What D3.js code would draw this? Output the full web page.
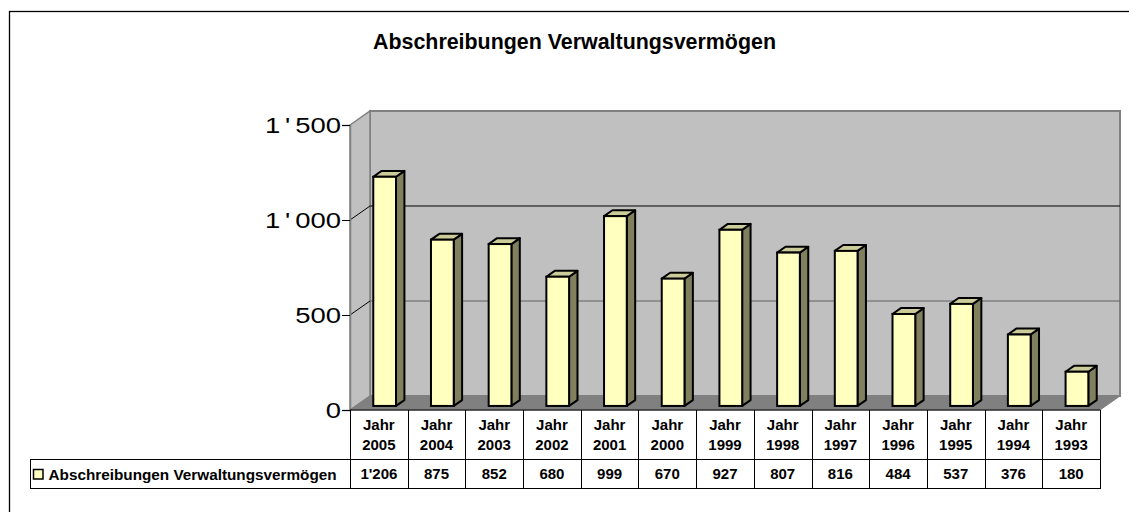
<!DOCTYPE html>
<html><head><meta charset="utf-8">
<script src="https://cdn.jsdelivr.net/npm/d3@7"></script>
<style>
html,body{margin:0;padding:0;background:#fff;}
svg{display:block;font-family:"Liberation Sans",Arial,sans-serif;}
</style></head>
<body><svg id="chart" width="1129" height="512"></svg>
<script>
const title = "Abschreibungen Verwaltungsvermögen";
const seriesName = "Abschreibungen Verwaltungsvermögen";
const categories = ["Jahr 2005","Jahr 2004","Jahr 2003","Jahr 2002","Jahr 2001","Jahr 2000","Jahr 1999","Jahr 1998","Jahr 1997","Jahr 1996","Jahr 1995","Jahr 1994","Jahr 1993"];
const values = [1206, 875, 852, 680, 999, 670, 927, 807, 816, 484, 537, 376, 180];
const yTicks = [0, 500, 1000, 1500];

const svg = d3.select("#chart");
const fmt = d => d3.format(",")(d).replace(/,/g, "'");

// layout
const L = 350, R = 1100, Y0 = 410, YT = 125;
const DX = 20, DY = -14;           // depth offset of the back wall
const dF = 0.29, dB = 0.71;        // bar depth range (fraction)
const tableTop = 410, rowSplit = 459, tableBot = 488, legendLeft = 30;

const x = d3.scaleBand().domain(categories).range([L, R]).padding(0);
const y = d3.scaleLinear().domain([0, 1500]).range([Y0, YT]);

// outer frame
svg.append("rect").attr("x", 9.5).attr("y", 11.5).attr("width", 1130).attr("height", 510)
  .attr("fill", "#fff").attr("stroke", "#000").attr("stroke-width", 1.3);

// title
svg.append("text").attr("x", 574.5).attr("y", 49).attr("text-anchor", "middle")
  .attr("font-size", 21.4).attr("font-weight", "bold").text(title);

const g = svg.append("g");
const pts = a => a.map(p => p.join(",")).join(" ");

// back wall
g.append("polygon").attr("points", pts([[L+DX, y(1500)+DY],[R+DX, y(1500)+DY],[R+DX, Y0+DY],[L+DX, Y0+DY]]))
  .attr("fill", "#c0c0c0").attr("stroke", "#808080").attr("stroke-width", 2);
// side wall
g.append("polygon").attr("points", pts([[L, y(1500)],[L+DX, y(1500)+DY],[L+DX, Y0+DY],[L, Y0]]))
  .attr("fill", "#c0c0c0").attr("stroke", "#808080").attr("stroke-width", 1.5);
// floor
g.append("polygon").attr("points", pts([[L, Y0],[L+DX, Y0+DY],[R+DX, Y0+DY],[R, Y0]]))
  .attr("fill", "#808080").attr("stroke", "#808080").attr("stroke-width", 1);

// gridlines
const grid = [500, 1000];
g.selectAll(".gb").data(grid).join("line")
  .attr("x1", L+DX).attr("x2", R+DX).attr("y1", d => y(d)+DY).attr("y2", d => y(d)+DY)
  .attr("stroke", d => d === 1000 ? "#000" : "#606060").attr("stroke-width", 1);
g.selectAll(".gs").data(grid).join("line")
  .attr("x1", L).attr("x2", L+DX).attr("y1", d => y(d)).attr("y2", d => y(d)+DY)
  .attr("stroke", "#000").attr("stroke-width", 1);

// axis
const ax = svg.append("g").attr("transform", `translate(${L},0)`)
  .call(d3.axisLeft(y).tickValues(yTicks).tickFormat(fmt).tickSize(8).tickPadding(0));
ax.select(".domain").attr("stroke", "#808080").attr("stroke-width", 1.5);
ax.selectAll(".tick line").attr("stroke", "#000");
ax.selectAll(".tick text").each(function(d) {
  const s = d3.select(this);
  const parts = fmt(d).split("'");
  s.text(null).attr("font-size", 22.5).attr("fill", "#000")
    .attr("font-family", "'Liberation Sans',Arial,sans-serif").attr("dy", "0.35em")
    .attr("x", 0).attr("transform", "translate(-9,0) scale(1.22,1)");
  parts.forEach((p, i) => {
    if (i > 0) s.append("tspan").attr("dx", 4).text("'");
    s.append("tspan").attr("dx", i > 0 ? 4 : 0).text(p);
  });
});

// bars
const bw = x.bandwidth() * 0.394;
const bdx = (dB - dF) * DX, bdy = (dB - dF) * DY;
const bars = g.selectAll(".bar").data(categories).join("g");
bars.each(function(c, i) {
  const v = values[i];
  const cx = x(c) + x.bandwidth()/2 + dF*DX;
  const x0 = cx - bw/2, x1 = cx + bw/2;
  const yb = y(0) + dF*DY, yt = y(v) + dF*DY;
  const s = d3.select(this);
  s.append("polygon").attr("points", pts([[x1, yt],[x1+bdx, yt+bdy],[x1+bdx, yb+bdy],[x1, yb]]))
    .attr("fill", "#80805f").attr("stroke", "#000").attr("stroke-width", 2).attr("stroke-linejoin", "round");
  s.append("polygon").attr("points", pts([[x0, yt],[x0+bdx, yt+bdy],[x1+bdx, yt+bdy],[x1, yt]]))
    .attr("fill", "#cccc9a").attr("stroke", "#000").attr("stroke-width", 2).attr("stroke-linejoin", "round");
  s.append("rect").attr("x", x0).attr("y", yt).attr("width", bw).attr("height", yb - yt)
    .attr("fill", "#ffffc0").attr("stroke", "#000").attr("stroke-width", 2);
});

// data table
const t = svg.append("g");
t.append("line").attr("x1", L).attr("x2", R).attr("y1", tableTop).attr("y2", tableTop).attr("stroke", "#000");
t.append("line").attr("x1", legendLeft).attr("x2", R).attr("y1", rowSplit+0.5).attr("y2", rowSplit+0.5).attr("stroke", "#000");
t.append("line").attr("x1", legendLeft).attr("x2", R).attr("y1", tableBot+0.5).attr("y2", tableBot+0.5).attr("stroke", "#000");
t.append("line").attr("x1", legendLeft+0.5).attr("x2", legendLeft+0.5).attr("y1", rowSplit).attr("y2", tableBot+1).attr("stroke", "#000");
const bounds = categories.map(c => x(c)).concat([R]);
t.selectAll(".vl").data(bounds).join("line")
  .attr("x1", d => Math.round(d)+0.5).attr("x2", d => Math.round(d)+0.5)
  .attr("y1", (d, i) => i === 0 ? Y0 : tableTop).attr("y2", tableBot+1)
  .attr("stroke", "#000");

t.selectAll(".h1").data(categories).join("text")
  .attr("x", c => x(c) + x.bandwidth()/2).attr("y", 430).attr("text-anchor", "middle")
  .attr("font-size", 15).attr("font-weight", "bold").text(c => c.split(" ")[0]);
t.selectAll(".h2").data(categories).join("text")
  .attr("x", c => x(c) + x.bandwidth()/2).attr("y", 450).attr("text-anchor", "middle")
  .attr("font-size", 15).attr("font-weight", "bold").text(c => c.split(" ")[1]);
t.selectAll(".vv").data(values).join("text")
  .attr("x", (d, i) => x(categories[i]) + x.bandwidth()/2).attr("y", 479).attr("text-anchor", "middle")
  .attr("font-size", 15).attr("font-weight", "bold").text(d => fmt(d));

// legend key
t.append("rect").attr("x", 33.5).attr("y", 469.5).attr("width", 9.5).attr("height", 9.5)
  .attr("fill", "#ffffc0").attr("stroke", "#000").attr("stroke-width", 1.5);
t.append("text").attr("x", 48.5).attr("y", 479.5).attr("font-size", 15.3).attr("font-weight", "bold").text(seriesName);
</script></body></html>
